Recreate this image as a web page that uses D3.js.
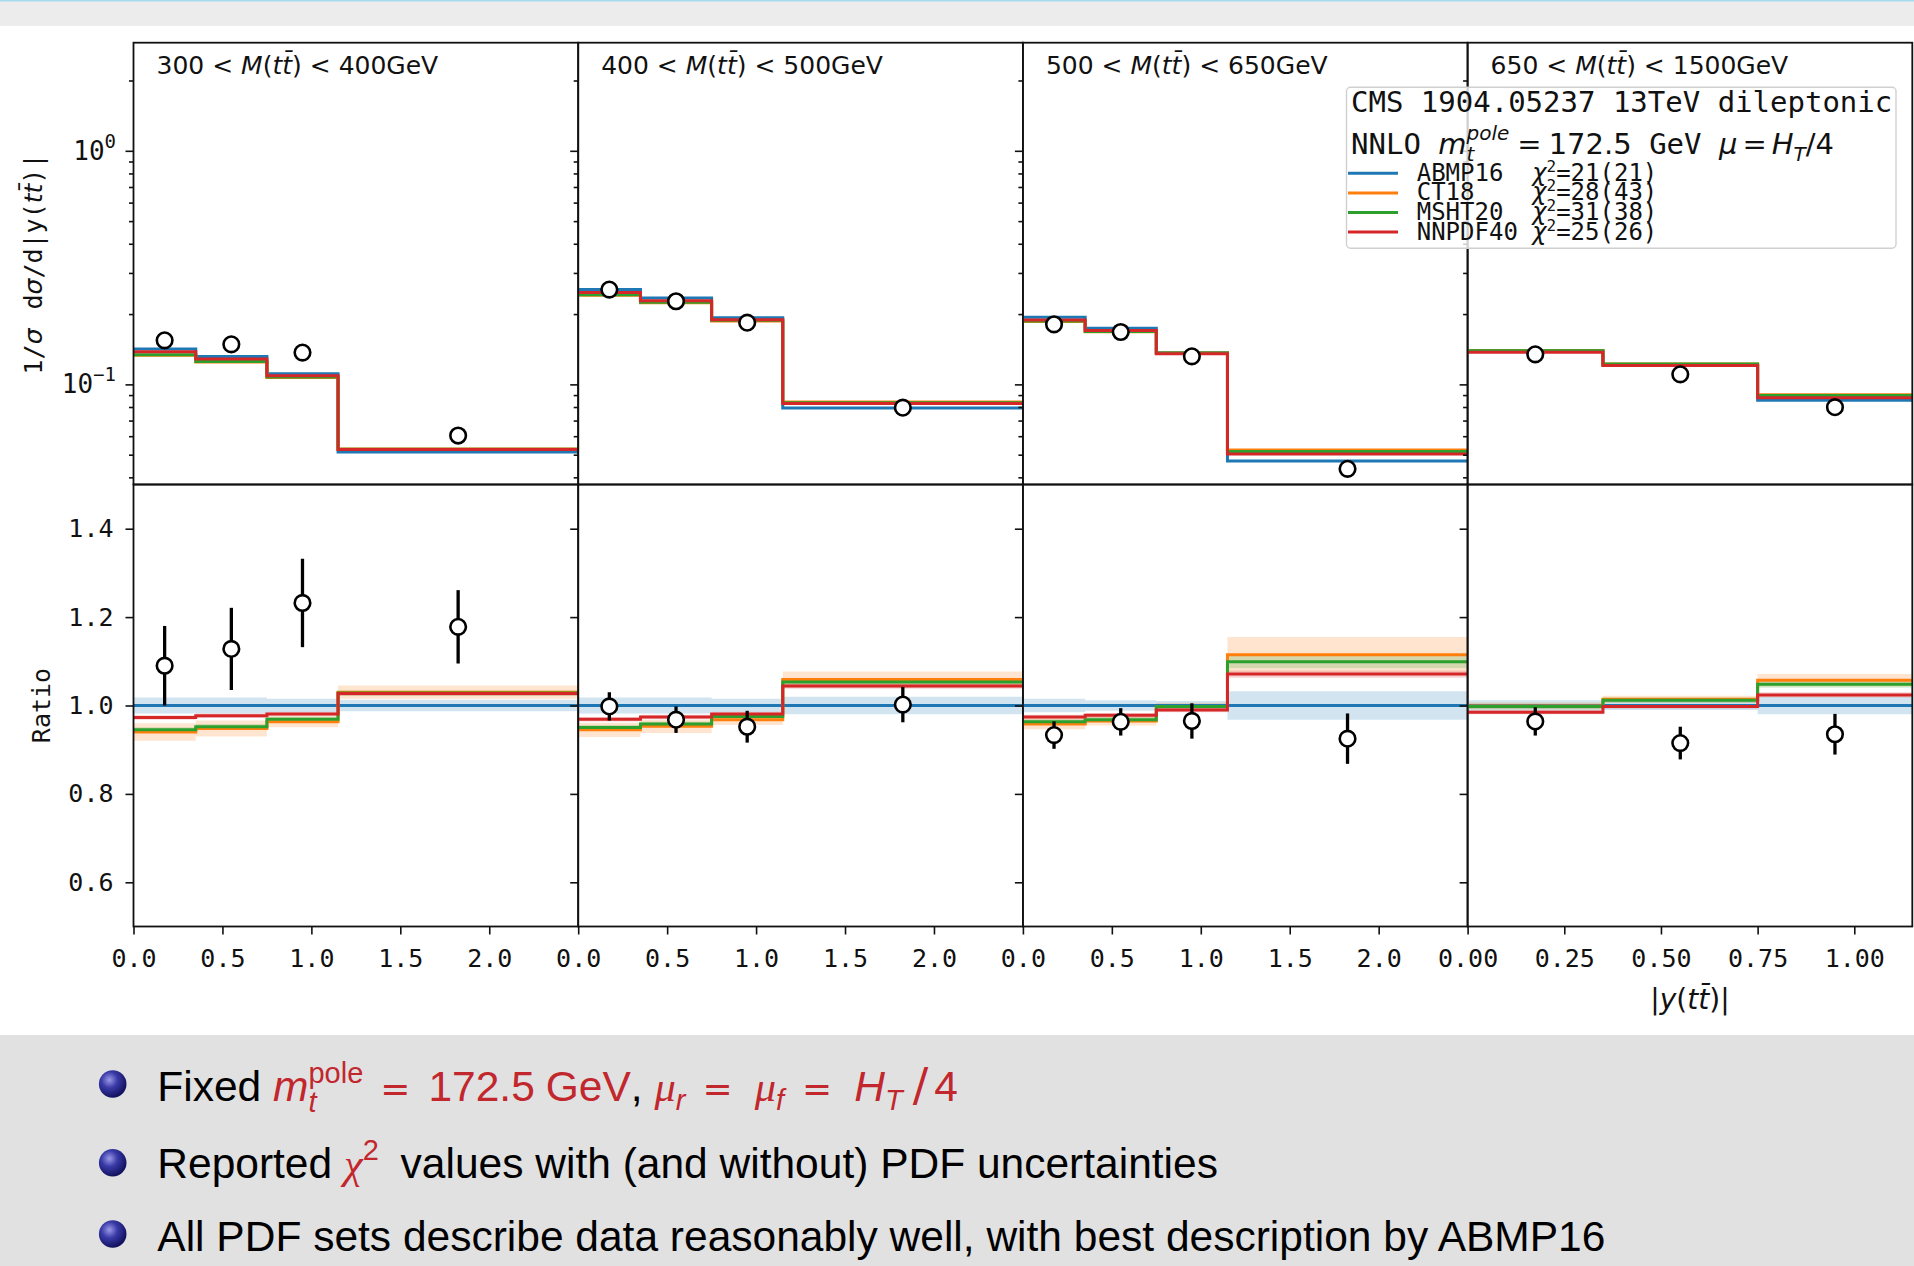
<!DOCTYPE html>
<html>
<head>
<meta charset="utf-8">
<script src="https://cdn.jsdelivr.net/npm/d3@7"></script>
<style>
  body { margin: 0; background: #fff; }
  svg { display: block; }
</style>
</head>
<body>
<script>
// ---- data ----
const massBins = [[300, 400], [400, 500], [500, 650], [650, 1500]];
const yEdges = [
  [0, 0.35, 0.75, 1.15, 2.5],
  [0, 0.35, 0.75, 1.15, 2.5],
  [0, 0.35, 0.75, 1.15, 2.5],
  [0, 0.35, 0.75, 1.15]
];
const xTicks = [
  [0, 0.5, 1.0, 1.5, 2.0],
  [0, 0.5, 1.0, 1.5, 2.0],
  [0, 0.5, 1.0, 1.5, 2.0],
  [0, 0.25, 0.5, 0.75, 1.0]
];
const pdfNames = ["ABMP16", "CT18", "MSHT20", "NNPDF40"];
const pdfColors = ["#1f77b4", "#ff7f0e", "#2ca02c", "#d62728"];
const chi2 = ["21(21)", "28(43)", "31(38)", "25(26)"];

// ABMP16 prediction, 1/sigma dsigma/d|y|
const abmp16 = [
  [0.1417, 0.1316, 0.111, 0.0513],
  [0.255, 0.2344, 0.193, 0.0793],
  [0.1938, 0.174, 0.1366, 0.047],
  [0.1395, 0.1207, 0.0855]
];
// ratios to ABMP16
const ratioCT18 = [
  [0.940, 0.948, 0.963, 1.030],
  [0.945, 0.953, 0.968, 1.059],
  [0.958, 0.965, 0.998, 1.115],
  [0.999, 1.014, 1.057]
];
const ratioMSHT20 = [
  [0.945, 0.952, 0.969, 1.028],
  [0.950, 0.958, 0.975, 1.053],
  [0.963, 0.968, 0.998, 1.099],
  [0.998, 1.012, 1.048]
];
const ratioNNPDF40 = [
  [0.973, 0.977, 0.981, 1.027],
  [0.969, 0.974, 0.981, 1.044],
  [0.974, 0.978, 0.990, 1.071],
  [0.985, 0.998, 1.024]
];
// PDF uncertainty half-widths (relative)
const bandABMP16 = [
  [0.018, 0.018, 0.015, 0.013],
  [0.018, 0.018, 0.015, 0.02],
  [0.015, 0.012, 0.01, 0.032],
  [0.012, 0.01, 0.02]
];
const bandCT18 = [
  [0.02, 0.018, 0.012, 0.015],
  [0.016, 0.015, 0.012, 0.018],
  [0.012, 0.01, 0.008, 0.04],
  [0.008, 0.008, 0.014]
];
const bandMSHT20 = [
  [0.006, 0.006, 0.006, 0.006],
  [0.006, 0.006, 0.006, 0.006],
  [0.006, 0.006, 0.005, 0.015],
  [0.006, 0.006, 0.008]
];
const bandNNPDF40 = [
  [0.005, 0.005, 0.005, 0.005],
  [0.005, 0.005, 0.005, 0.006],
  [0.005, 0.005, 0.005, 0.008],
  [0.005, 0.005, 0.006]
];
// CMS data
const dataAbs = [
  [0.1544, 0.1484, 0.1368, 0.0604],
  [0.2546, 0.2269, 0.1838, 0.0795],
  [0.1808, 0.1676, 0.1318, 0.0435],
  [0.1345, 0.1104, 0.0799]
];
const dataRatio = [
  [1.090, 1.128, 1.232, 1.178],
  [0.998, 0.968, 0.952, 1.002],
  [0.933, 0.963, 0.965, 0.925],
  [0.964, 0.915, 0.935]
];
const dataErr = [
  [0.09, 0.093, 0.10, 0.083],
  [0.032, 0.03, 0.036, 0.04],
  [0.031, 0.031, 0.04, 0.057],
  [0.032, 0.037, 0.046]
];

const bullets = ["fixed", "chi2", "All PDF sets describe data reasonably well, with best description by ABMP16"];

// ---- layout ----
const W = 1914, H = 1266;
const L0 = 133.5, PW = 444.7;
const TOP = 42.7, MID = 484.5, BOT = 926.5;
const MONO = "DejaVu Sans Mono", SANS = "DejaVu Sans", HELV = "Liberation Sans", SERIF = "Liberation Serif";
const INK = "#111";
const RED = "#c1272d";

const svg = d3.select("body").append("svg").attr("width", W).attr("height", H);

// slide background
svg.append("rect").attr("x", 0).attr("y", 0).attr("width", W).attr("height", 26).attr("fill", "#ececec");
svg.append("line").attr("x1", 0).attr("x2", W).attr("y1", 0.8).attr("y2", 0.8)
  .attr("stroke", "#a6dbef").attr("stroke-width", 1.6);
svg.append("rect").attr("x", 0).attr("y", 1035).attr("width", W).attr("height", H - 1035).attr("fill", "#e1e1e1");

// lays out runs of text left to right (sub/superscripts via dy, stacking via back)
function mathText(parent, runs, base) {
  const g = parent.append("g");
  let end = 0, lastStart = 0;
  runs.forEach(r => {
    const o = Object.assign({}, base, r);
    const sx = (r.back ? lastStart : end) + (r.dx || 0);
    const t = g.append("text")
      .attr("x", sx).attr("y", r.dy || 0)
      .attr("font-family", o.font).attr("font-size", o.size)
      .attr("font-style", o.italic ? "italic" : "normal")
      .attr("fill", o.fill)
      .attr("xml:space", "preserve")
      .style("white-space", "pre")
      .text(o.t);
    const w = t.node().getComputedTextLength();
    if (!r.back) lastStart = sx;
    end = Math.max(end, sx + w);
  });
  return { g, width: end };
}

const yUp = d3.scaleLog().domain([0.03727, 2.903]).range([MID, TOP]);
const yLo = d3.scaleLinear().domain([0.5, 1.5]).range([BOT, MID]);
const minorUp = [0.04, 0.05, 0.06, 0.07, 0.08, 0.09, 0.2, 0.3, 0.4, 0.5, 0.6, 0.7, 0.8, 0.9, 2];

function styleAxis(g) {
  g.select(".domain").remove();
  g.selectAll(".tick line").attr("stroke", INK).attr("stroke-width", 1.6);
  g.selectAll(".tick text").attr("font-family", MONO).attr("font-size", 25).attr("fill", INK);
}

massBins.forEach((mb, p) => {
  const x0 = L0 + p * PW;
  const edges = yEdges[p];
  const x = d3.scaleLinear().domain([0, edges[edges.length - 1]]).range([x0, x0 + PW]);
  const nb = abmp16[p].length;
  const ratios = [abmp16[p].map(() => 1), ratioCT18[p], ratioMSHT20[p], ratioNNPDF40[p]];
  const bands = [bandABMP16[p], bandCT18[p], bandMSHT20[p], bandNNPDF40[p]];
  const centers = d3.range(nb).map(i => (edges[i] + edges[i + 1]) / 2);
  const stepPts = vals => edges.map((e, i) => [e, vals[Math.min(i, nb - 1)], i]);

  const gp = svg.append("g");

  // lower panel: uncertainty bands
  ratios.forEach((r, k) => {
    const area = d3.area().curve(d3.curveStepAfter)
      .x(d => x(d[0]))
      .y0(d => yLo(d[1] - bands[k][Math.min(d[2], nb - 1)]))
      .y1(d => yLo(d[1] + bands[k][Math.min(d[2], nb - 1)]));
    gp.append("path").attr("d", area(stepPts(r)))
      .attr("fill", pdfColors[k]).attr("fill-opacity", 0.2);
  });
  // lines in both panels
  ratios.forEach((r, k) => {
    const lineLo = d3.line().curve(d3.curveStepAfter).x(d => x(d[0])).y(d => yLo(d[1]));
    gp.append("path").attr("d", lineLo(stepPts(r)))
      .attr("fill", "none").attr("stroke", pdfColors[k]).attr("stroke-width", 3);
    const abs = r.map((v, i) => v * abmp16[p][i]);
    const lineUp = d3.line().curve(d3.curveStepAfter).x(d => x(d[0])).y(d => yUp(d[1]));
    gp.append("path").attr("d", lineUp(stepPts(abs)))
      .attr("fill", "none").attr("stroke", pdfColors[k]).attr("stroke-width", 3);
  });

  // data: error bars + open circles
  centers.forEach((c, i) => {
    gp.append("line")
      .attr("x1", x(c)).attr("x2", x(c))
      .attr("y1", yLo(dataRatio[p][i] - dataErr[p][i]))
      .attr("y2", yLo(dataRatio[p][i] + dataErr[p][i]))
      .attr("stroke", "#000").attr("stroke-width", 3.3);
  });
  centers.forEach((c, i) => {
    gp.append("circle").attr("cx", x(c)).attr("cy", yLo(dataRatio[p][i])).attr("r", 7.8)
      .attr("fill", "#fff").attr("stroke", "#000").attr("stroke-width", 2.6);
    gp.append("circle").attr("cx", x(c)).attr("cy", yUp(dataAbs[p][i])).attr("r", 7.8)
      .attr("fill", "#fff").attr("stroke", "#000").attr("stroke-width", 2.6);
  });

  // axes
  gp.append("g").attr("transform", `translate(${x0},0)`)
    .call(d3.axisLeft(yUp).tickValues([0.1, 1]).tickSize(8).tickFormat(""))
    .call(styleAxis);
  gp.append("g").attr("transform", `translate(${x0},0)`)
    .call(d3.axisLeft(yUp).tickValues(minorUp).tickSize(4.5).tickFormat(""))
    .call(styleAxis);
  gp.append("g").attr("transform", `translate(${x0},0)`)
    .call(d3.axisLeft(yLo).tickValues([0.6, 0.8, 1.0, 1.2, 1.4]).tickSize(8).tickPadding(12)
      .tickFormat(p === 0 ? d3.format(".1f") : ""))
    .call(styleAxis);
  gp.append("g").attr("transform", `translate(0,${BOT})`)
    .call(d3.axisBottom(x).tickValues(xTicks[p]).tickSize(8).tickPadding(15)
      .tickFormat(d3.format(p === 3 ? ".2f" : ".1f")))
    .call(styleAxis);

  // frames
  [[TOP, MID], [MID, BOT]].forEach(([a, b]) => {
    gp.append("rect").attr("x", x0).attr("y", a).attr("width", PW).attr("height", b - a)
      .attr("fill", "none").attr("stroke", INK).attr("stroke-width", 1.8);
  });

  // panel title
  const tt = mathText(svg, [
    { t: `${mb[0]} < ` }, { t: "M", italic: true }, { t: "(" },
    { t: "t", italic: true }, { t: "t\u0304", italic: true }, { t: ")" },
    { t: ` < ${mb[1]}GeV` }
  ], { font: SANS, size: 25, fill: INK });
  tt.g.attr("transform", `translate(${x0 + 23},74)`);
});

// upper tick labels 10^0, 10^-1
[[1, "0"], [0.1, "\u22121"]].forEach(([v, e]) => {
  const m = mathText(svg, [{ t: "10" }, { t: e, size: 19, dy: -12 }], { font: MONO, size: 26, fill: INK });
  m.g.attr("transform", `translate(${116 - m.width},${yUp(v) + 9})`);
});

// axis titles
const yl = svg.append("g").attr("transform", "translate(42,264) rotate(-90)");
const ylm = mathText(yl, [
  { t: "1/" }, { t: "\u03c3", font: SANS, italic: true }, { t: " d", dx: 4 },
  { t: "\u03c3", font: SANS, italic: true },
  { t: "/d|y(" }, { t: "t", font: SANS, italic: true },
  { t: "t\u0304", font: SANS, italic: true }, { t: ")|" }
], { font: MONO, size: 25, fill: INK });
ylm.g.attr("transform", `translate(${-ylm.width / 2},0)`);

svg.append("text").attr("transform", `translate(50,${yLo(1)}) rotate(-90)`)
  .attr("text-anchor", "middle").attr("font-family", MONO).attr("font-size", 25).attr("fill", INK)
  .text("Ratio");

const xlm = mathText(svg, [
  { t: "|" }, { t: "y", italic: true }, { t: "(" }, { t: "t", italic: true },
  { t: "t\u0304", italic: true }, { t: ")|" }
], { font: SANS, size: 28, fill: INK });
xlm.g.attr("transform", `translate(${L0 + 3.5 * PW - xlm.width / 2},1009)`);

// legend
const lg = svg.append("g");
lg.append("rect").attr("x", 1346.5).attr("y", 87.3).attr("width", 549.5).attr("height", 161)
  .attr("rx", 4).attr("fill", "#fff").attr("fill-opacity", 0.8)
  .attr("stroke", "#d0d0d0").attr("stroke-width", 1.4);
lg.append("text").attr("x", 1351).attr("y", 111.7)
  .attr("font-family", MONO).attr("font-size", 29).attr("fill", INK)
  .attr("xml:space", "preserve").style("white-space", "pre")
  .text("CMS 1904.05237 13TeV dileptonic");
const l2 = mathText(lg, [
  { t: "NNLO ", font: MONO }, { t: "m", italic: true }, { t: "t", italic: true, size: 20, dy: 7 },
  { t: "pole", italic: true, size: 20, dy: -14, back: true },
  { t: "=", dx: 8 }, { t: "172.5", dx: 7 }, { t: " GeV ", font: MONO },
  { t: "\u03bc", italic: true }, { t: "=", dx: 5 }, { t: "H", italic: true, dx: 5 },
  { t: "T", italic: true, size: 20, dy: 7 }, { t: "/4" }
], { font: SANS, size: 29, fill: INK });
l2.g.attr("transform", "translate(1351,154)");
pdfNames.forEach((n, k) => {
  const ry = 173.3 + k * 19.6;
  lg.append("line").attr("x1", 1348).attr("x2", 1398).attr("y1", ry).attr("y2", ry)
    .attr("stroke", pdfColors[k]).attr("stroke-width", 3);
  const row = mathText(lg, [
    { t: n.padEnd(8) }, { t: "\u03c7", font: SANS, italic: true },
    { t: "2", size: 16, dy: -9 }, { t: "=" + chi2[k] }
  ], { font: MONO, size: 24, fill: INK });
  row.g.attr("transform", `translate(1416.7,${ry + 7.5})`);
});

// bullet list
const defs = svg.append("defs");
const grad = defs.append("radialGradient").attr("id", "ball").attr("cx", "38%").attr("cy", "35%").attr("r", "65%");
grad.append("stop").attr("offset", "0%").attr("stop-color", "#9a9ae6");
grad.append("stop").attr("offset", "45%").attr("stop-color", "#3a3aa8");
grad.append("stop").attr("offset", "100%").attr("stop-color", "#12125e");

const bulletY = [1084, 1162.7, 1234];
const baseY = [1100.7, 1178.3, 1250.7];
bullets.forEach((b, i) => {
  svg.append("circle").attr("cx", 112.7).attr("cy", bulletY[i]).attr("r", 13.8).attr("fill", "url(#ball)");
  let runs;
  if (b === "fixed") {
    runs = [
      { t: "Fixed " },
      { t: "m", italic: true, fill: RED }, { t: "t", italic: true, size: 29, dy: 11, fill: RED },
      { t: "pole", size: 29, dy: -18, back: true, fill: RED },
      { t: "=", font: SANS, size: 36, dx: 17, fill: RED }, { t: "172.5", dx: 18, fill: RED },
      { t: "GeV", dx: 11, fill: RED },
      { t: ", " },
      { t: "\u03bc", italic: true, font: SERIF, fill: RED },
      { t: "r", italic: true, size: 29, dy: 9, fill: RED },
      { t: "=", font: SANS, size: 36, dx: 17, fill: RED },
      { t: "\u03bc", italic: true, font: SERIF, dx: 22, fill: RED },
      { t: "f", italic: true, size: 29, dy: 9, fill: RED },
      { t: "=", font: SANS, size: 36, dx: 18, fill: RED },
      { t: "H", italic: true, dx: 22, fill: RED }, { t: "T", italic: true, size: 29, dy: 9, fill: RED },
      { t: "/", font: SANS, size: 46, dx: 10, fill: RED }, { t: "4", dx: 6, fill: RED }
    ];
  } else if (b === "chi2") {
    runs = [
      { t: "Reported " },
      { t: "\u03c7", italic: true, font: SERIF, fill: RED },
      { t: "2", size: 29, dy: -18, fill: RED },
      { t: " values with (and without) PDF uncertainties", dx: 10 }
    ];
  } else {
    runs = [{ t: b }];
  }
  const m = mathText(svg, runs, { font: HELV, size: 42.5, fill: "#000" });
  m.g.attr("transform", `translate(157.3,${baseY[i]})`);
});
</script>
</body>
</html>
